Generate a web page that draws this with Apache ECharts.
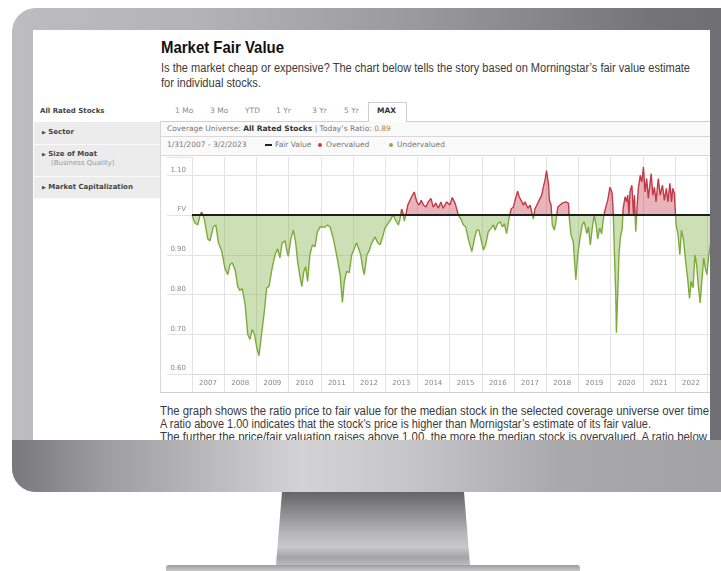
<!DOCTYPE html>
<html><head><meta charset="utf-8">
<script src="https://cdn.jsdelivr.net/npm/echarts@6/dist/echarts.min.js"></script>
<style>
html,body{margin:0;padding:0;background:#fff;width:721px;height:571px;overflow:hidden;position:relative;}
.a{position:absolute;white-space:nowrap;}
.cond{font-family:"Liberation Sans",Arial,sans-serif;transform-origin:0 0;}
.verd{font-family:"DejaVu Sans",Verdana,sans-serif;}
#body{left:12px;top:8px;width:760px;height:484px;border-radius:24px;overflow:hidden;
 background:linear-gradient(90deg,#bdbdbf 0%,#b3b3b5 25%,#98989b 55%,#747478 85%,#6c6c70 100%);}
#chin{left:0;top:432px;width:760px;height:52px;
 background:linear-gradient(90deg,#78787b 0%,#9d9da0 12%,#d3d3d5 38%,#c6c6c8 52%,#a9a9ac 72%,#a0a0a3 100%);}
#screen{left:33px;top:30px;width:677px;height:410px;background:#fff;overflow:hidden;}
#inner{left:-33px;top:-30px;width:721px;height:571px;}
#neck{left:276px;top:492px;width:194px;height:73px;clip-path:polygon(6px 0,188px 0,194px 100%,0 100%);
 background:linear-gradient(180deg,#656568 0%,#88888b 25%,#b4b4b6 55%,#c9c9cb 75%,#a3a3a6 90%,#bcbcbe 100%);}
#base{left:166px;top:565px;width:414px;height:6px;border-radius:3px 3px 0 0;background:linear-gradient(180deg,#9c9c9f,#c9c9cb);}
.side{left:34px;width:128px;background:#ececec;border-bottom:1px solid #fafafa;}
.sb{font-family:"DejaVu Sans",Verdana,sans-serif;font-weight:bold;font-size:7px;color:#444;}
.tab{font-family:"DejaVu Sans",Verdana,sans-serif;font-size:7.5px;color:#8a8a8a;top:106px;}
.sm{font-family:"DejaVu Sans",Verdana,sans-serif;font-size:7.5px;color:#777;}
.hl{height:1px;background:#d8d8d8;}
.para{font-size:12.5px;color:#3a3a3a;line-height:14px;}
</style></head>
<body>
<div id="body" class="a"><div id="chin" class="a"></div></div>
<div id="neck" class="a"></div>
<div id="base" class="a"></div>
<div id="screen" class="a"><div id="inner" class="a">
  <div class="a cond" data-w="123" style="left:161px;top:39px;font-size:17px;font-weight:bold;color:#111;line-height:18px;">Market Fair Value</div>
  <div class="a cond para" data-w="529" style="left:161px;top:61px;">Is the market cheap or expensive? The chart below tells the story based on Morningstar’s fair value estimate</div>
  <div class="a cond para" data-w="100" style="left:161px;top:76px;">for individual stocks.</div>

  <div class="a sb" style="left:40px;top:107px;">All Rated Stocks</div>
  <div class="a side" style="top:122px;height:22px;"></div>
  <div class="a side" style="top:145px;height:31px;"></div>
  <div class="a side" style="top:177px;height:21px;"></div>
  <div class="a sb" style="left:42px;top:128px;"><span style="font-size:5px;">▶</span> Sector</div>
  <div class="a sb" style="left:42px;top:150px;"><span style="font-size:5px;">▶</span> Size of Moat</div>
  <div class="a verd" style="left:51px;top:159px;font-size:7px;color:#999;">(Business Quality)</div>
  <div class="a sb" style="left:42px;top:183px;"><span style="font-size:5px;">▶</span> Market Capitalization</div>

  <div class="a tab" style="left:175px;">1 Mo</div>
  <div class="a tab" style="left:210px;">3 Mo</div>
  <div class="a tab" style="left:245px;">YTD</div>
  <div class="a tab" style="left:276px;">1 Yr</div>
  <div class="a tab" style="left:312px;">3 Yr</div>
  <div class="a tab" style="left:344px;">5 Yr</div>
  <div class="a hl" style="left:160px;top:121px;width:561px;background:#cfcfcf;"></div>
  <div class="a" style="left:368px;top:102px;width:37px;height:19px;border:1px solid #cfcfcf;border-bottom:none;background:#fff;"></div>
  <div class="a tab" style="left:377px;color:#333;font-weight:bold;">MAX</div>

  <div class="a" style="left:161px;top:122px;width:560px;height:270px;background:#fafafa;"></div>
  <div class="a" style="left:160px;top:121px;width:1px;height:272px;background:#d8d8d8;"></div>
  <div class="a sm" style="left:167px;top:124px;">Coverage Universe: <b style="color:#333;">All Rated Stocks</b> | Today’s Ratio: <span style="color:#b08050;">0.89</span></div>
  <div class="a hl" style="left:160px;top:136px;width:561px;"></div>
  <div class="a sm" style="left:167px;top:140px;">1/31/2007 - 3/2/2023</div>
  <div class="a" style="left:265px;top:144px;width:7px;height:2px;background:#222;"></div>
  <div class="a sm" style="left:275px;top:140px;">Fair Value</div>
  <div class="a" style="left:318px;top:143px;width:4px;height:4px;border-radius:2px;background:#c53d4b;"></div>
  <div class="a sm" style="left:326px;top:140px;">Overvalued</div>
  <div class="a" style="left:389px;top:143px;width:4px;height:4px;border-radius:2px;background:#8ab04a;"></div>
  <div class="a sm" style="left:397px;top:140px;">Undervalued</div>
  <div class="a hl" style="left:160px;top:155px;width:561px;"></div>
  <div class="a" style="left:161px;top:156px;width:560px;height:236px;background:#fff;"></div>
  <div class="a hl" style="left:160px;top:392px;width:561px;background:#d0d0d0;"></div>

  <div id="chart" class="a" style="left:160px;top:155px;width:570px;height:237px;"></div>

  <div class="a cond para" data-w="549" style="left:160px;top:404px;">The graph shows the ratio price to fair value for the median stock in the selected coverage universe over time</div>
  <div class="a cond para" data-w="491" style="left:160px;top:417px;">A ratio above 1.00 indicates that the stock’s price is higher than Mornigstar’s estimate of its fair value.</div>
  <div class="a cond para" data-w="547" style="left:160px;top:430px;">The further the price/fair valuation raises above 1.00, the more the median stock is overvalued. A ratio below</div>
</div></div>

<script>
document.querySelectorAll('[data-w]').forEach(function(el){
  var w = el.getBoundingClientRect().width;
  el.style.transform = 'scaleX(' + (Number(el.dataset.w) / w) + ')';
});

const years = [
2007.00,2007.09,2007.18,2007.25,2007.30,2007.38,2007.49,2007.56,2007.66,2007.74,2007.82,2007.92,
2008.02,2008.11,2008.18,2008.25,2008.34,2008.42,2008.49,2008.56,2008.65,2008.73,2008.80,2008.87,2008.94,
2009.01,2009.08,2009.16,2009.25,2009.32,2009.39,2009.49,2009.58,2009.66,2009.73,2009.80,2009.89,2009.94,2009.99,
2010.07,2010.15,2010.22,2010.28,2010.35,2010.41,2010.47,2010.53,2010.59,2010.66,2010.74,2010.82,2010.89,2010.98,
2011.03,2011.13,2011.21,2011.29,2011.39,2011.49,2011.60,2011.67,2011.73,2011.80,2011.88,2011.96,
2012.04,2012.11,2012.17,2012.24,2012.30,2012.35,2012.43,2012.50,2012.56,2012.63,2012.68,2012.77,2012.84,2012.91,2012.99,
2013.08,2013.18,2013.25,2013.30,2013.36,2013.41,2013.46,2013.51,2013.56,2013.59,2013.64,2013.70,2013.82,2013.90,2013.98,
2014.05,2014.12,2014.19,2014.26,2014.34,2014.42,2014.49,2014.57,2014.65,2014.73,2014.80,2014.91,
2015.01,2015.08,2015.17,2015.27,2015.35,2015.43,2015.50,2015.58,2015.69,2015.77,2015.84,2015.91,
2016.00,2016.05,2016.12,2016.20,2016.29,2016.36,2016.41,2016.49,2016.57,2016.64,2016.70,2016.77,2016.84,2016.91,2016.98,
2017.05,2017.11,2017.16,2017.22,2017.29,2017.34,2017.43,2017.50,2017.57,2017.60,2017.65,2017.74,2017.81,2017.86,2017.91,2017.96,
2018.01,2018.07,2018.10,2018.15,2018.19,2018.25,2018.30,2018.36,2018.43,2018.50,2018.56,2018.61,2018.69,2018.72,2018.77,2018.84,2018.92,2018.98,
2019.05,2019.12,2019.18,2019.26,2019.31,2019.37,2019.43,2019.49,2019.55,2019.60,2019.66,2019.72,2019.79,2019.85,2019.91,2019.98,
2020.04,2020.07,2020.09,2020.12,2020.16,2020.18,2020.22,2020.26,2020.30,2020.36,2020.39,2020.45,2020.50,2020.53,2020.57,2020.60,2020.66,2020.71,2020.74,2020.78,2020.82,2020.86,2020.92,2020.97,
2021.02,2021.07,2021.12,2021.17,2021.26,2021.31,2021.36,2021.41,2021.48,2021.54,2021.61,2021.67,2021.73,2021.78,2021.84,2021.89,2021.93,2021.98,
2022.03,2022.09,2022.15,2022.20,2022.26,2022.33,2022.39,2022.45,2022.50,2022.56,2022.62,2022.67,2022.72,2022.78,2022.84,2022.89,2022.94,2022.99,
2023.05,2023.10,2023.15,2023.17];
const ratio = [
1.00,0.98,0.975,1.00,1.007,0.99,0.94,0.935,0.97,0.975,0.93,0.91,
0.867,0.85,0.875,0.88,0.862,0.82,0.81,0.815,0.775,0.70,0.687,0.712,0.70,
0.667,0.646,0.70,0.76,0.817,0.82,0.867,0.90,0.915,0.892,0.93,0.935,0.912,0.896,
0.94,0.962,0.93,0.883,0.846,0.82,0.857,0.87,0.833,0.90,0.925,0.92,0.957,0.97,
0.975,0.97,0.975,0.97,0.94,0.90,0.85,0.78,0.833,0.858,0.855,0.90,
0.915,0.93,0.933,0.90,0.867,0.85,0.90,0.91,0.925,0.937,0.945,0.93,0.925,0.942,0.967,
0.978,0.99,1.002,0.99,0.985,0.975,0.99,1.015,1.002,0.985,1.00,1.025,1.046,1.058,1.033,
1.025,1.037,1.025,1.02,1.033,1.042,1.02,1.03,1.017,1.033,1.017,1.033,
1.025,1.044,1.03,1.00,0.99,0.975,0.97,0.94,0.908,0.94,0.962,0.962,
0.93,0.912,0.925,0.958,0.967,0.975,0.962,0.978,0.983,0.97,0.978,0.953,0.99,1.015,1.02,
1.042,1.06,1.046,1.037,1.025,1.033,1.017,1.025,1.00,0.99,1.015,1.03,1.042,1.05,1.07,1.087,
1.112,1.078,1.037,1.025,0.975,0.962,0.983,1.02,1.025,1.03,1.025,1.033,1.03,0.99,0.95,0.933,0.837,0.90,
0.942,0.975,0.983,0.953,0.97,0.925,0.967,1.00,0.975,0.94,0.967,0.953,1.00,1.02,1.037,1.07,
1.058,1.025,0.983,0.90,0.80,0.704,0.80,0.90,0.942,0.967,1.017,1.046,1.033,1.05,1.00,1.058,1.075,1.00,1.05,0.958,1.017,1.067,1.10,1.083,
1.121,1.058,1.092,1.042,1.104,1.05,1.07,1.033,1.092,1.05,1.075,1.037,1.067,1.033,1.08,1.033,1.067,1.054,
0.978,0.953,0.90,0.962,0.94,0.883,0.842,0.79,0.833,0.817,0.90,0.875,0.825,0.779,0.842,0.892,0.867,0.85,
0.90,0.925,0.933,0.89];
const yearLabels = ['2007','2008','2009','2010','2011','2012','2013','2014','2015','2016','2017','2018','2019','2020','2021','2022'];
const yTicks = [0.6,0.7,0.8,0.9,1.0,1.1];
const yTickLabels = ['0.60','0.70','0.80','0.90','FV','1.10'];
const fairValue = 1.0;

const chart = echarts.init(document.getElementById('chart'), null, {renderer:'canvas'});
const grid = '#e3e3e3';
chart.setOption({
  animation:false,
  grid:{left:32, top:2, width:520.7, height:217},
  xAxis:{type:'value', min:2007, max:2023.17, interval:1,
    axisLine:{show:true, lineStyle:{color:'#d6d6d6'}},
    axisTick:{show:true, length:18, lineStyle:{color:grid}},
    splitLine:{show:true, showMaxLine:false, lineStyle:{color:grid}},
    axisLabel:{align:'left', margin:6, showMaxLabel:false,
      formatter:function(v){const r=Math.round(v); if(Math.abs(v-r)>1e-6) return ''; const i=yearLabels.indexOf(String(r)); return i<0?'':'{c|'+yearLabels[i]+'}';},
      rich:{c:{width:32, align:'center', fontSize:7, color:'#888', fontFamily:'DejaVu Sans'}}}},
  yAxis:{type:'value', min:0.6, max:1.146, interval:0.1,
    axisLine:{show:false},
    axisTick:{show:true, length:25, lineStyle:{color:grid}},
    splitLine:{show:true, showMaxLine:false, lineStyle:{color:grid}},
    axisLabel:{margin:6, verticalAlign:'bottom', padding:[0,0,2,0], fontSize:7, color:'#888', fontFamily:'DejaVu Sans',
      formatter:function(v){const i=yTicks.findIndex(t=>Math.abs(t-v)<1e-6); return i<0?'':yTickLabels[i];}}},
  visualMap:{show:false, type:'piecewise', dimension:1, seriesIndex:0,
    pieces:[{gt:fairValue, lte:3, color:'#c23a48'},{gte:0, lte:fairValue, color:'#7cab3c'}]},
  series:[{type:'line', name:'Ratio', data:years.map((y,i)=>[y, ratio[i]]),
    showSymbol:false, symbol:'none', lineStyle:{width:1.4},
    areaStyle:{origin:fairValue, opacity:0.38},
    markLine:{silent:true, symbol:'none', label:{show:false},
      lineStyle:{color:'#1e1e1e', width:2, type:'solid'}, data:[{yAxis:fairValue}]}}]
});
</script>
</body></html>
